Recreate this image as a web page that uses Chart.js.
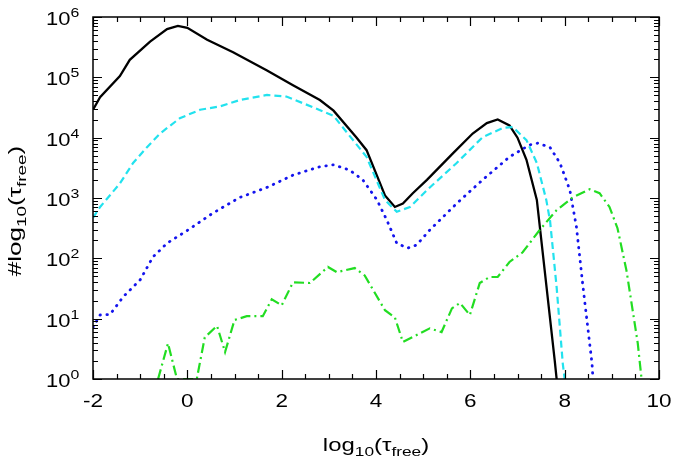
<!DOCTYPE html>
<html>
<head>
<meta charset="utf-8">
<script src="https://cdn.jsdelivr.net/npm/chart.js@4.4.0/dist/chart.umd.min.js"></script>
<style>
  body { margin: 0; background: #fff; }
  #wrap { width: 675px; height: 460px; }
</style>
</head>
<body>
<div id="wrap"><canvas id="chart"></canvas></div>
<script>
// Data (x = log10 tau_free, y = counts)
const blackX = [-2, -1.85, -1.43, -1.22, -0.79, -0.43, -0.2, 0, 0.42, 0.97, 1.69, 2.24, 2.81, 3.1, 3.59, 3.8, 4.19, 4.4, 4.57, 4.78, 5.08, 5.63, 6.05, 6.35, 6.58, 6.83, 7.0, 7.19, 7.41, 7.79, 7.83];
const blackY = [2.9e4, 4.7e4, 1.05e5, 1.95e5, 3.9e5, 6.3e5, 7.1e5, 6.6e5, 4.2e5, 2.6e5, 1.3e5, 7.4e4, 4.2e4, 2.8e4, 1.0e4, 6.2e3, 1.1e3, 710, 810, 1.2e3, 2.0e3, 5.5e3, 1.17e4, 1.74e4, 2.0e4, 1.6e4, 1.0e4, 4.3e3, 930, 2.0, 1];

const cyanX = [-2, -1.85, -1.43, -1.15, -0.86, -0.58, -0.16, 0.27, 0.69, 1.11, 1.69, 2.1, 2.66, 3.1, 3.8, 4.19, 4.44, 4.72, 5.08, 5.71, 6.26, 6.69, 6.9, 7.19, 7.41, 7.61, 7.69, 7.83, 7.96, 8.0];
const cyanY = [470, 710, 1.74e3, 3.8e3, 6.9e3, 1.17e4, 2.1e4, 2.9e4, 3.3e4, 4.2e4, 5.1e4, 4.8e4, 3.2e4, 2.3e4, 4.8e3, 930, 590, 710, 1.35e3, 3.8e3, 1.02e4, 1.45e4, 1.5e4, 9.1e3, 3.8e3, 930, 420, 33, 1.8, 1];

const blueX = [-2, -1.85, -1.64, -1.36, -1.0, -0.73, -0.43, 0, 0.54, 1.11, 1.69, 2.24, 2.81, 3.1, 3.44, 3.72, 4.02, 4.23, 4.44, 4.67, 4.86, 5.14, 5.71, 6.26, 6.83, 7.26, 7.43, 7.69, 7.9, 8.11, 8.25, 8.39, 8.58, 8.6];
const blueY = [7.2, 11.5, 11.7, 23, 44, 105, 178, 290, 560, 1.02e3, 1.5e3, 2.4e3, 3.3e3, 3.55e3, 2.9e3, 2.0e3, 930, 430, 178, 148, 166, 295, 810, 2.0e3, 4.8e3, 7.6e3, 8.1e3, 6.9e3, 3.8e3, 1.35e3, 330, 33, 1.8, 1];

const greenX = [-0.62, -0.41, -0.22, 0.2, 0.37, 0.63, 0.8, 1.0, 1.26, 1.6, 1.79, 2.0, 2.24, 2.6, 2.98, 3.17, 3.55, 3.76, 4.19, 4.4, 4.57, 5.14, 5.39, 5.61, 5.78, 5.99, 6.2, 6.41, 6.58, 6.83, 7.11, 7.47, 7.83, 8.17, 8.53, 8.74, 8.95, 9.12, 9.31, 9.55, 9.63];
const greenY = [1, 3.9, 1, 1, 4.9, 7.6, 2.8, 9.5, 11, 11, 21, 16.6, 40, 39, 72, 59, 69, 52, 13.8, 10.5, 4.1, 6.9, 6.0, 14.8, 18.2, 11.5, 39, 49, 49, 87, 126, 295, 630, 1.02e3, 1.4e3, 1.2e3, 710, 316, 63, 3.9, 1];

// Axis ticks
const xTicks = [-2, 0, 2, 4, 6, 8, 10];
const xMinorStep = 0.5;
const yDecades = [0, 1, 2, 3, 4, 5, 6];

function toPoints(xs, ys) {
    return xs.map((x, i) => ({ x: x, y: ys[i] }));
}

const FONT = '"Liberation Sans", Arial, Helvetica, sans-serif';

// draw text pieces (with sub/superscripts) stretched horizontally by sx
function drawRich(ctx, parts, x, y, sx, measureOnly) {
    let w = 0;
    parts.forEach(p => {
        ctx.font = p.size + 'px ' + FONT;
        if (!measureOnly) {
            ctx.save();
            ctx.translate(x + w, y + (p.dy || 0));
            ctx.scale(sx, 1);
            ctx.fillText(p.t, 0, 0);
            ctx.restore();
        }
        w += ctx.measureText(p.t).width * sx;
    });
    return w;
}

const titleParts = [
    { t: 'log', size: 18 },
    { t: '10', size: 13, dy: 5 },
    { t: '(\u03c4', size: 18 },
    { t: 'free', size: 13, dy: 5 },
    { t: ')', size: 18 }
];

// Frame, inward ticks, labels and axis titles
const frameAxes = {
    id: 'frameAxes',
    afterDatasetsDraw(chart) {
        const ctx = chart.ctx;
        const a = chart.chartArea;
        const xs = chart.scales.x;
        const ys = chart.scales.y;
        ctx.save();
        ctx.strokeStyle = '#000';
        ctx.fillStyle = '#000';
        ctx.textAlign = 'left';
        ctx.textBaseline = 'alphabetic';

        // x ticks (top + bottom)
        ctx.lineWidth = 1.2;
        for (let v = xTicks[0]; v <= xTicks[xTicks.length - 1] + 1e-9; v += xMinorStep) {
            const px = Math.round(xs.getPixelForValue(v)) + 0.5;
            const major = xTicks.includes(v);
            const len = major ? 9 : 5;
            ctx.beginPath();
            ctx.moveTo(px, a.bottom); ctx.lineTo(px, a.bottom - len);
            ctx.moveTo(px, a.top); ctx.lineTo(px, a.top + len);
            ctx.stroke();
        }

        // y ticks (left + right), log minors
        yDecades.forEach(d => {
            for (let m = 1; m <= 9; m++) {
                if (m > 1 && d === yDecades[yDecades.length - 1]) break;
                const py = Math.round(ys.getPixelForValue(m * Math.pow(10, d))) + 0.5;
                const len = m === 1 ? 9 : 5;
                ctx.beginPath();
                ctx.moveTo(a.left, py); ctx.lineTo(a.left + len, py);
                ctx.moveTo(a.right, py); ctx.lineTo(a.right - len, py);
                ctx.stroke();
            }
        });

        // frame
        ctx.lineWidth = 1.5;
        ctx.strokeRect(a.left, a.top, a.right - a.left, a.bottom - a.top);

        // x tick labels
        xTicks.forEach(v => {
            const parts = [{ t: String(v), size: 18 }];
            const w = drawRich(ctx, parts, 0, 0, 1.25, true);
            drawRich(ctx, parts, xs.getPixelForValue(v) - w / 2, a.bottom + 28, 1.25, false);
        });

        // y tick labels 10^n
        yDecades.forEach(d => {
            const py = ys.getPixelForValue(Math.pow(10, d));
            drawRich(ctx, [
                { t: '10', size: 18, dy: 8 },
                { t: String(d), size: 13, dy: 0 }
            ], 46, py, 1.22, false);
        });

        // x title
        const tw = drawRich(ctx, titleParts, 0, 0, 1.33, true);
        const cx = (a.left + a.right) / 2;
        drawRich(ctx, titleParts, cx - tw / 2, 451, 1.33, false);

        // y title (rotated)
        const yParts = [{ t: '#', size: 18 }].concat(titleParts);
        const yw = drawRich(ctx, yParts, 0, 0, 1.45, true);
        ctx.translate(21, 211);
        ctx.rotate(-Math.PI / 2);
        drawRich(ctx, yParts, -yw / 2, 0, 1.45, false);

        ctx.restore();
    }
};

function lineSet(xs, ys, color, width, dash, cap) {
    return {
        data: toPoints(xs, ys),
        showLine: true,
        borderColor: color,
        borderWidth: width,
        borderDash: dash,
        borderCapStyle: cap || 'butt',
        pointRadius: 0,
        fill: false,
        tension: 0
    };
}

new Chart(document.getElementById('chart'), {
    type: 'scatter',
    data: {
        datasets: [
            lineSet(greenX, greenY, '#22dd22', 2.2, [10, 4, 2, 4]),
            lineSet(blueX, blueY, '#1414ee', 2.8, [0.5, 6.5], 'round'),
            lineSet(cyanX, cyanY, '#22e2ee', 2.2, [7, 4]),
            lineSet(blackX, blackY, '#000000', 2.3, [])
        ]
    },
    options: {
        responsive: true,
        maintainAspectRatio: false,
        animation: false,
        layout: { padding: { left: 0, right: 16, top: 17, bottom: 0 } },
        plugins: {
            legend: { display: false },
            tooltip: { enabled: false }
        },
        scales: {
            x: {
                type: 'linear',
                min: -2,
                max: 10,
                grid: { display: false },
                border: { display: false },
                ticks: { display: false },
                afterFit: function(scale) { scale.height = 81; }
            },
            y: {
                type: 'logarithmic',
                min: 1,
                max: 1e6,
                grid: { display: false },
                border: { display: false },
                ticks: { display: false },
                afterFit: function(scale) { scale.width = 93; }
            }
        }
    },
    plugins: [frameAxes]
});
</script>
</body>
</html>
